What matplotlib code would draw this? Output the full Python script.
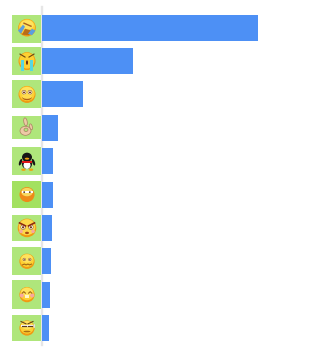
import matplotlib
matplotlib.use("Agg")
import matplotlib.pyplot as plt
from matplotlib.patches import Circle, Ellipse, Rectangle, Polygon
from matplotlib.lines import Line2D
from matplotlib.transforms import Affine2D

W, H = 321, 352
categories = ["laugh_cry", "sob", "smile", "ok", "penguin", "shy", "angry", "awkward", "blush", "squint"]
values = [215.5, 91, 41.3, 16.3, 10.8, 10.7, 10, 9.3, 8.3, 7.3]
tile_top = [-13, -14.5, -14.5, -12, -14.5, -14, -13, -14, -14.5, -13]
tile_bottom = [15, 13.5, 14, 11.5, 14, 13, 13, 14, 14, 12.5]
tile_colors = ["#afe67b", "#afe67b", "#afe67b", "#afe67b", "#afe67b", "#a3e160", "#afe67b", "#afe67b", "#afe67b", "#afe67b"]

fig = plt.figure(figsize=(W / 100, H / 100), dpi=100, facecolor="white")
ax = fig.add_axes([42 / W, 1 - 345 / H, (W - 42) / W, 338 / H])
pitch = 33.37
ax.barh(range(len(values)), values, height=26 / pitch, color="#4d90f5", edgecolor="none", zorder=3)
ax.set_xlim(0, W - 42)
ax.set_ylim((345 - 27.7) / pitch, (7 - 27.7) / pitch)
ax.set_xticks([]); ax.set_yticks([])
for s in ["top", "right", "bottom"]:
    ax.spines[s].set_visible(False)
ax.spines["left"].set_color("#e6e6e6")
ax.spines["left"].set_linewidth(1.7)

YEL, ORG, DK = "#fdd033", "#f09a12", "#6b4410"

def add(patch, T, z=3):
    patch.set_transform(T); patch.set_zorder(z); patch.set_clip_on(False)
    fig.add_artist(patch)

def line(xs, ys, T, c=DK, lw=0.8):
    fig.add_artist(Line2D(xs, ys, color=c, lw=lw, transform=T, zorder=5))

def face(T, r=8.5):
    add(Circle((0, 0), r, fc=ORG, ec="none"), T)
    add(Ellipse((0, -0.8), 2 * r - 1.6, 2 * r - 2.4, fc=YEL, ec="none"), T, 3.2)
    add(Ellipse((0, -2.8), 1.5 * r, 1.1 * r, fc="#ffe25e", ec="none"), T, 3.3)

def eyes(T, dy=-2, dx=3.4, r=1.6):
    for s in (-1, 1):
        add(Circle((s * dx, dy), r, fc="white", ec="#8c5a20", lw=0.4), T, 4)
        add(Circle((s * dx, dy + .2), r * .5, fc="#7a3a14", ec="none"), T, 4.2)

def draw(kind, T):
    if kind == "laugh_cry":
        face(T, 8.8)
        add(Polygon([(-5, 7), (-2, 1), (5, 3), (2, 7.5)], fc="#b86d18", ec="none"), T, 4)
        add(Polygon([(-9, 3), (-4, -3), (-2, -1), (-6, 6)], fc="#5a9ee0", ec="none"), T, 4.2)
        add(Polygon([(1, 6), (5, 1), (8.5, 3), (5, 7.5)], fc="#5a9ee0", ec="none"), T, 4.2)
        line([-3, 4], [-4.5, -1.5], T, "#a8601c", 1)
    elif kind == "sob":
        add(Ellipse((0, 0), 17, 18, fc=ORG, ec="none"), T)
        add(Ellipse((0, -0.5), 15, 16, fc=YEL, ec="none"), T, 3.2)
        add(Rectangle((-6, -1), 3.2, 10.5, fc="#58d6e0", ec="none"), T, 4)
        add(Rectangle((2.8, -1), 3.2, 10.5, fc="#58d6e0", ec="none"), T, 4)
        add(Ellipse((0, 1.5), 2, 4.5, fc="#6b2a10", ec="none"), T, 4)
        line([-7, -2], [-7, -4], T); line([7, 2], [-7, -4], T)
    elif kind == "smile":
        face(T, 8.5); eyes(T, -2.2, 3, 2)
        add(Ellipse((0, 3), 9.5, 5.5, fc="#b0621a", ec="none"), T, 4)
        add(Ellipse((0, 2), 10, 4.8, fc="#ffdc50", ec="none"), T, 4.1)
    elif kind == "ok":
        add(Ellipse((-1.5, 3), 11, 9, fc="#edc9a6", ec="#a88060", lw=0.5), T)
        add(Ellipse((-1, 2), 4, 3.4, fc="#afe67b", ec="#a88060", lw=0.5), T, 3.2)
        add(Ellipse((-1.5, -6), 3.4, 8, angle=-10, fc="#edc9a6", ec="#a88060", lw=0.5), T, 3.3)
        add(Ellipse((4, -1), 2.6, 6, angle=-15, fc="#edc9a6", ec="#a88060", lw=0.5), T, 3.3)
    elif kind == "penguin":
        add(Ellipse((0, -4), 10, 9, fc="#161616", ec="none"), T)
        add(Ellipse((0, 3), 10, 9.5, fc="#161616", ec="none"), T)
        add(Ellipse((0, 4), 7, 7.5, fc="white", ec="none"), T, 3.2)
        add(Rectangle((-5, -0.5), 10, 2.8, fc="#e01818", ec="none"), T, 3.4)
        add(Ellipse((0, -2.5), 4.5, 2, fc="#f0a010", ec="none"), T, 3.5)
        add(Ellipse((-3.5, 8.5), 4.5, 2.4, fc="#f0a010", ec="none"), T, 3.5)
        add(Ellipse((4, 8.5), 4.5, 2.4, fc="#f0a010", ec="none"), T, 3.5)
        add(Ellipse((-6.5, 1), 2.6, 7, angle=20, fc="#161616", ec="none"), T, 3.1)
        add(Ellipse((6.5, 1), 2.6, 7, angle=-20, fc="#161616", ec="none"), T, 3.1)
    elif kind == "shy":
        add(Circle((0, 0), 7.5, fc="#ee8a18", ec="none"), T)
        add(Ellipse((0, -2.5), 11.5, 8.5, fc="#f8d860", ec="none"), T, 3.2)
        add(Rectangle((-5.5, -3.2), 11, 1.6, fc="white", ec="none"), T, 4)
        add(Circle((-2.8, -2.4), 0.9, fc="#5a3a20", ec="none"), T, 4.2)
        add(Circle((2.8, -2.4), 0.9, fc="#5a3a20", ec="none"), T, 4.2)
    elif kind == "angry":
        add(Circle((0, 0), 9.3, fc=ORG, ec="none"), T)
        add(Ellipse((0, -0.8), 16.5, 16, fc="#fdd84a", ec="none"), T, 3.2)
        eyes(T, -0.8, 3.9, 2.3)
        line([-7.5, -1.5], [-5, -2], T, "#8c2a10", 1.2); line([7.5, 1.5], [-5, -2], T, "#8c2a10", 1.2)
        add(Ellipse((0, 5), 4, 2.4, fc="#a84a14", ec="none"), T, 4)
        add(Circle((-6, 3.5), 1.8, fc="#f6a8a0", ec="none"), T, 3.6)
        add(Circle((6, 3.5), 1.8, fc="#f6a8a0", ec="none"), T, 3.6)
    elif kind == "awkward":
        face(T, 7.6); eyes(T, -1.8, 2.8, 1.3)
        line([-4.5, -2.7, -0.9, 0.9, 2.7, 4.5], [3.6, 2.8, 3.6, 2.8, 3.6, 2.8], T, "#a06a14", 0.8)
    elif kind == "blush":
        face(T, 7.6)
        line([-4.8, -3.2, -1.6], [-1.5, -3, -1.5], T, "#a06a14", 0.8)
        line([4.8, 3.2, 1.6], [-1.5, -3, -1.5], T, "#a06a14", 0.8)
        add(Circle((-5.2, 0.8), 2, fc="#f8a8a0", ec="none"), T, 4)
        add(Circle((5.2, 0.8), 2, fc="#f8a8a0", ec="none"), T, 4)
        add(Rectangle((-2.3, 0.5), 4.6, 2.6, fc="#fff6c8", ec="none"), T, 4)
    elif kind == "squint":
        face(T, 7.6)
        add(Rectangle((-6.5, -2.8), 12.5, 2.2, fc="white", ec="none"), T, 4)
        line([-6, -1], [-6.5, -4.2], T); line([6, 1], [-6.5, -4.2], T)
        line([-5, -1], [-1.7, -1.7], T, "#5a3a20", 0.9); line([1, 5], [-1.7, -1.7], T, "#5a3a20", 0.9)
        add(Ellipse((7.2, -2), 1.8, 4, fc="#e0e0e0", ec="none"), T, 4.3)
        add(Ellipse((0, 3.5), 7, 1.6, fc="#a86f14", ec="none"), T, 4)

fig.canvas.draw()
for i, kind in enumerate(categories):
    _, yd = ax.transData.transform((0, i))
    T = Affine2D().scale(1, -1).translate(27, yd)
    add(Rectangle((-14.7, tile_top[i]), 29, tile_bottom[i] - tile_top[i], fc=tile_colors[i], ec="none"), T, 2)
    draw(kind, T)

fig.savefig("out.png", dpi=100, facecolor="white")
